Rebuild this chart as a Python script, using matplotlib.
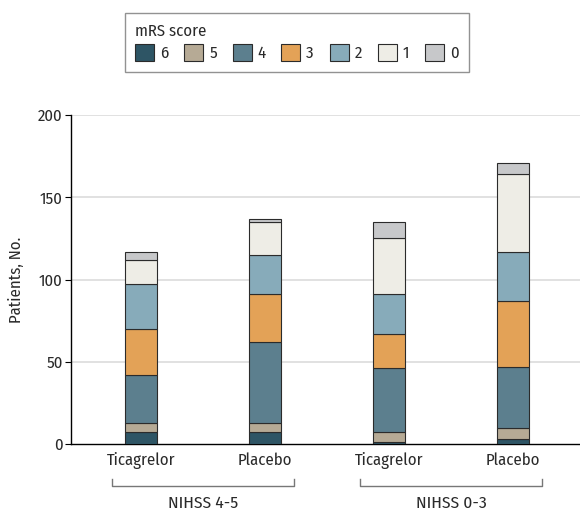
import numpy as np
import matplotlib
matplotlib.use("Agg")
import matplotlib.pyplot as plt

plt.rcParams['font.family'] = ['Fira Sans Condensed', 'DejaVu Sans']

# data (patients per mRS score)
groups = ['Ticagrelor', 'Placebo', 'Ticagrelor', 'Placebo']
strata = ['NIHSS 4-5', 'NIHSS 0-3']
mrs_labels = ['6', '5', '4', '3', '2', '1', '0']
mrs6 = [7, 7, 1, 3]
mrs5 = [6, 6, 6, 7]
mrs4 = [29, 49, 39, 37]
mrs3 = [28, 29, 21, 40]
mrs2 = [27, 24, 24, 30]
mrs1 = [15, 20, 34, 47]
mrs0 = [5, 2, 10, 7]
colors = ['#2e5565', '#b6aa95', '#5c7f8e', '#e3a257', '#87abba', '#eeede6', '#c7c8ca']

series = [mrs6, mrs5, mrs4, mrs3, mrs2, mrs1, mrs0]
txt_col = '#2a2a2a'
fs = 12

fig = plt.figure(figsize=(5.8, 5.26), dpi=100)
ax = fig.add_axes([71/580, 82/526, 1 - 71/580, 329/526])

x = np.arange(len(groups))
bottom = np.zeros(len(groups))
handles = []
for vals, col, lab in zip(series, colors, mrs_labels):
    b = ax.bar(x, vals, width=0.26, bottom=bottom, color=col,
               edgecolor='#2b2b2b', linewidth=0.8, label=lab, zorder=3)
    handles.append(b)
    bottom += np.array(vals)

ax.set_ylim(0, 200)
ax.set_xlim(-0.565, 3.54)
ax.set_yticks([0, 50, 100, 150, 200])
ax.set_xticks(x)
ax.set_xticklabels(groups, fontsize=fs, color=txt_col)
ax.tick_params(axis='x', length=0, pad=6)
ax.tick_params(axis='y', length=4, labelsize=fs, labelcolor=txt_col, pad=2)
for y in [50, 100, 150, 200]:
    ax.axhline(y, color='#dcdcdc', lw=1.2, zorder=0)
for s in ['top', 'right']:
    ax.spines[s].set_visible(False)
ax.spines['left'].set_linewidth(1.0)
ax.spines['bottom'].set_linewidth(1.0)
ax.set_ylabel('Patients, No.', fontsize=fs, color=txt_col, labelpad=10)

# group brackets under the axis
for i, name in enumerate(strata):
    left = 2 * i - 0.236
    right = 2 * i + 1.236
    ax.plot([left, left, right, right], [-21.5, -25.5, -25.5, -21.5],
            color='#777777', lw=1.0, clip_on=False)
    ax.text(2 * i + 0.5, -36, name, ha='center', va='center',
            fontsize=12.5, color=txt_col)

leg = fig.legend(handles=handles, labels=mrs_labels, title='mRS score', ncol=7,
                 loc='upper left', bbox_to_anchor=(125/580, 1 - 13/526),
                 borderaxespad=0, frameon=True, fancybox=False,
                 fontsize=fs, title_fontsize=fs,
                 handlelength=1.14, handleheight=1.2, handletextpad=0.35,
                 columnspacing=0.95, borderpad=0.62, labelspacing=0.3,
                 edgecolor='#777777')
leg._legend_box.align = 'left'
leg.get_frame().set_linewidth(1.0)
for t in leg.get_texts():
    t.set_color(txt_col)
leg.get_title().set_color(txt_col)

fig.savefig('out.png', dpi=100)
